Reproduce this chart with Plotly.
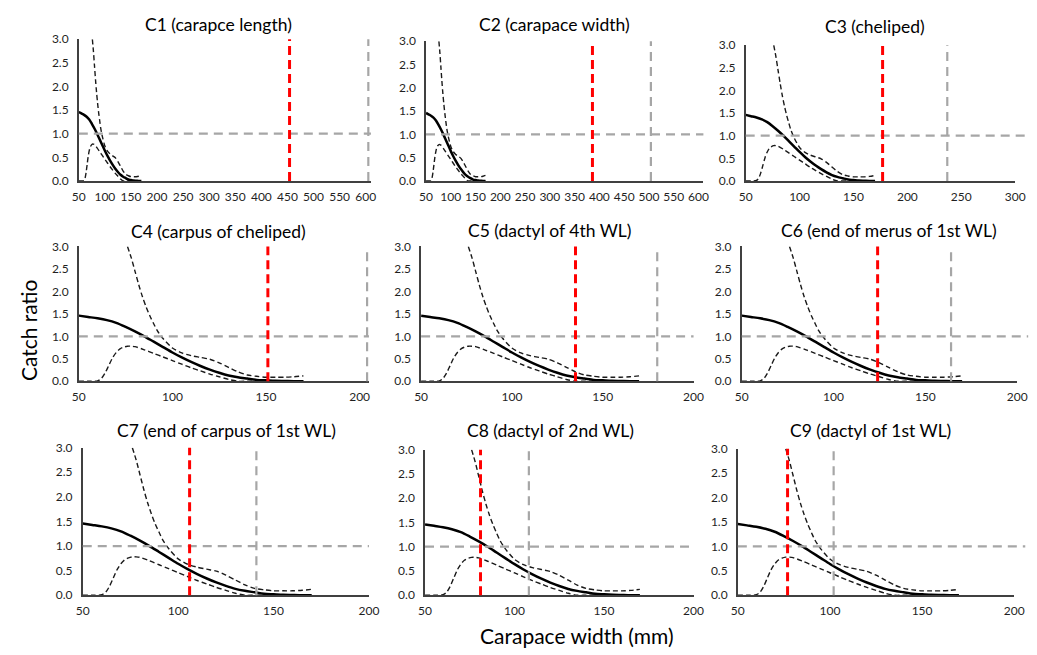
import plotly.graph_objects as go

# ---------------- data ----------------
titles = ["C1 (carapce length)", "C2 (carapace width)", "C3 (cheliped)",
          "C4 (carpus of cheliped)", "C5 (dactyl of 4th WL)", "C6 (end of merus of 1st WL)",
          "C7 (end of carpus of 1st WL)", "C8 (dactyl of 2nd WL)", "C9 (dactyl of 1st WL)"]

mid_x = [50, 55, 60, 65, 70, 75, 80, 85, 90, 95, 100, 105, 110, 115, 120, 125, 130,
         135, 140, 145, 150, 155, 160, 165, 170]
mid_y = [1.46, 1.43, 1.40, 1.36, 1.30, 1.21, 1.11, 1.00, 0.88, 0.76, 0.64, 0.53, 0.43,
         0.34, 0.26, 0.19, 0.13, 0.09, 0.06, 0.03, 0.02, 0.01, 0.005, 0.0, 0.0]

upper_x = [76, 78, 80, 82, 84, 86, 88, 90, 92, 95, 100, 105, 110, 115, 120, 125, 130,
           135, 140, 145, 150, 155, 160, 165, 170]
upper_y = [3.0, 2.75, 2.45, 2.15, 1.88, 1.65, 1.45, 1.28, 1.12, 0.95, 0.74, 0.63, 0.57,
           0.53, 0.49, 0.41, 0.31, 0.21, 0.14, 0.11, 0.09, 0.09, 0.09, 0.10, 0.12]

lower_x = [50, 55, 60, 62, 64, 66, 68, 70, 72, 74, 76, 78, 80, 85, 90, 95, 100, 105,
           110, 115, 120, 125, 130, 135, 140, 150, 160, 170]
lower_y = [0.0, 0.0, 0.01, 0.06, 0.18, 0.35, 0.52, 0.64, 0.72, 0.76, 0.78, 0.78, 0.77,
           0.70, 0.62, 0.54, 0.46, 0.38, 0.30, 0.23, 0.16, 0.10, 0.04, 0.0, 0.0, 0.0,
           0.0, 0.0]

red_lines = [454, 386, 177, 151, 135, 124, 106, 81, 77]
grey_lines = [605, 504, 237, 204, 180, 164, 141, 108, 102]

x_ranges = [[50, 610], [50, 610], [50, 300], [50, 205], [50, 200], [50, 200],
            [50, 200], [50, 200], [50, 200]]
x_ticks = [list(range(50, 601, 50)), list(range(50, 601, 50)), [50, 100, 150, 200, 250, 300],
           [50, 100, 150, 200], [50, 100, 150, 200], [50, 100, 150, 200],
           [50, 100, 150, 200], [50, 100, 150, 200], [50, 100, 150, 200]]
y_ticks = [0.0, 0.5, 1.0, 1.5, 2.0, 2.5, 3.0]

# ---------------- layout geometry (pixels) ----------------
W, H = 1037, 655
# (left px, right px, top px, bottom px) of each plot area
boxes = [(73, 370, 32, 177), (426, 708, 34, 177), (751, 1025, 38, 177),
         (73, 368, 244, 382), (421, 698, 244, 382), (747, 1027, 244, 382),
         (77, 368, 450, 601), (425, 698, 452, 601), (743, 1024, 451, 601)]
title_pos = [(215, 17), (557, 17), (882, 19), (215, 229), (552, 228), (897, 228),
             (223, 432), (553, 432), (878, 432)]

FONT = "Lato"
TXT = "#1f1f1f"

fig = go.Figure()
layout = dict(width=W, height=H, margin=dict(l=0, r=0, t=0, b=0),
              paper_bgcolor="white", plot_bgcolor="white", showlegend=False,
              font=dict(family=FONT, color=TXT), shapes=[], annotations=[])

for i in range(9):
    n = "" if i == 0 else str(i + 1)
    xa, ya = "x" + n, "y" + n
    l, r, t, b = boxes[i]
    layout["xaxis" + n] = dict(domain=[l / W, r / W], range=x_ranges[i], anchor=ya,
                               tickvals=x_ticks[i], ticks="", showgrid=False, zeroline=False,
                               showline=True, linecolor="#404040", linewidth=1.5,
                               tickfont=dict(size=12, color=TXT), ticklabelstandoff=4,
                               fixedrange=True)
    layout["yaxis" + n] = dict(domain=[1 - b / H, 1 - t / H], range=[0, 3], anchor=xa,
                               tickvals=y_ticks, tickformat=".1f", ticks="", showgrid=False,
                               zeroline=False, showline=True, linecolor="#404040",
                               linewidth=1.5, tickfont=dict(size=12, color=TXT),
                               ticklabelstandoff=6, fixedrange=True)

    # reference lines
    ext = 1.04 if i in (2, 5, 8) else 1.0
    layout["shapes"].append(dict(type="line", xref=xa + " domain", yref=ya, x0=0, x1=ext,
                                 y0=1, y1=1, line=dict(color="#A6A6A6", width=2.2, dash="9px,6px")))
    layout["shapes"].append(dict(type="line", xref=xa, yref=ya + " domain", x0=grey_lines[i],
                                 x1=grey_lines[i], y0=0, y1=1,
                                 line=dict(color="#A6A6A6", width=2.2, dash="9px,6px")))
    layout["shapes"].append(dict(type="line", xref=xa, yref=ya + " domain", x0=red_lines[i],
                                 x1=red_lines[i], y0=0, y1=1,
                                 line=dict(color="#FF0000", width=3, dash="9px,5px")))

    fig.add_trace(go.Scatter(x=lower_x, y=lower_y, xaxis=xa, yaxis=ya, mode="lines",
                             line=dict(color="#1a1a1a", width=1.4, dash="5px,3px",
                                       shape="spline", smoothing=0.8)))
    fig.add_trace(go.Scatter(x=upper_x, y=upper_y, xaxis=xa, yaxis=ya, mode="lines",
                             line=dict(color="#1a1a1a", width=1.4, dash="5px,3px",
                                       shape="spline", smoothing=0.8)))
    fig.add_trace(go.Scatter(x=mid_x, y=mid_y, xaxis=xa, yaxis=ya, mode="lines",
                             line=dict(color="black", width=2.5, shape="spline",
                                       smoothing=0.8)))

    tx, ty = title_pos[i]
    layout["annotations"].append(dict(text=titles[i], xref="paper", yref="paper",
                                      x=tx / W, y=1 - ty / H, showarrow=False,
                                      xanchor="center", yanchor="middle",
                                      font=dict(size=17.5, color="black", family=FONT)))

layout["annotations"].append(dict(text="Catch ratio", xref="paper", yref="paper",
                                  x=22 / W, y=1 - 330 / H, textangle=-90, showarrow=False,
                                  xanchor="center", yanchor="middle",
                                  font=dict(size=21, color="black", family=FONT)))
layout["annotations"].append(dict(text="Carapace width (mm)", xref="paper", yref="paper",
                                  x=579 / W, y=1 - 642 / H, showarrow=False,
                                  xanchor="center", yanchor="middle",
                                  font=dict(size=21, color="black", family=FONT)))

fig.update_layout(**layout)
fig.write_html("out.html")
